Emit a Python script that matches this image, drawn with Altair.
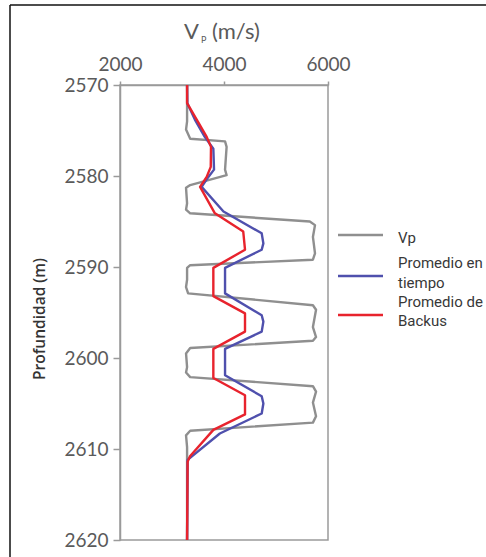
import altair as alt
import pandas as pd

# Vp log (m/s) against depth (m)
vp_depth = [2570.0, 2574.0, 2574.9, 2575.9, 2576.2, 2576.8, 2579.3, 2579.9, 2581.0, 2581.3,
            2583.0, 2583.7, 2584.1, 2585.0, 2585.4, 2586.7, 2588.5, 2589.2, 2589.8, 2590.1,
            2591.4, 2592.2, 2592.9, 2594.2, 2594.7, 2596.6, 2597.7, 2598.1, 2598.9, 2599.5,
            2601.0, 2601.6, 2602.1, 2603.1, 2603.7, 2604.9, 2606.4, 2607.1, 2608.0, 2608.5,
            2609.8, 2620.0]
vp_value = [3290, 3290, 3270, 3350, 4020, 4050, 4020, 4050, 3350, 3270,
            3290, 3270, 3350, 5650, 5750, 5710, 5750, 5710, 3350, 3290,
            3290, 3270, 3310, 5710, 5770, 5710, 5770, 5710, 3350, 3270,
            3290, 3270, 3350, 5710, 5770, 5710, 5770, 5710, 3350, 3270,
            3290, 3290]

# Time-average velocity
time_depth = [2570.0, 2572.0, 2573.8, 2575.7, 2577.0, 2579.3, 2580.1, 2581.2, 2583.9, 2586.3,
              2587.4, 2588.1, 2590.1, 2592.9, 2595.3, 2596.0, 2597.1, 2599.0, 2601.9, 2604.2,
              2605.0, 2606.1, 2608.3, 2611.2, 2620.0]
time_value = [3290, 3295, 3440, 3630, 3795, 3808, 3700, 3570, 3990, 4725,
              4757, 4725, 4020, 4020, 4725, 4757, 4725, 4020, 4020, 4725,
              4757, 4725, 3920, 3300, 3290]

# Backus average velocity
backus_depth = [2570.0, 2572.0, 2573.8, 2575.7, 2576.8, 2579.0, 2580.1, 2581.2, 2584.1, 2586.1,
                2588.1, 2590.1, 2593.2, 2595.1, 2597.1, 2599.0, 2602.2, 2604.1, 2606.2, 2607.9,
                2610.8, 2611.4, 2620.0]
backus_value = [3290, 3290, 3475, 3667, 3750, 3745, 3667, 3540, 3825, 4370,
                4404, 3795, 3795, 4404, 4404, 3795, 3795, 4404, 4404, 3795,
                3346, 3300, 3290]

series_names = ["Vp", "Promedio en tiempo", "Promedio de Backus"]
series_colors = ["#8f8f8f", "#4f50ad", "#e8232d"]
legend_lines = [["Vp"], ["Promedio en", "tiempo"], ["Promedio de", "Backus"]]

x_ticks = [2000, 4000, 6000]
y_ticks = [2570, 2580, 2590, 2600, 2610, 2620]

W, H = 208, 455
FRAME = "#9a9a9a"
TICK_TEXT = "#5a5a5a"
LEGEND_TEXT = "#383838"

x_scale = alt.Scale(domain=[2000, 6000], nice=False, zero=False)
y_scale = alt.Scale(domain=[2570, 2620], reverse=True, nice=False, zero=False)
color_scale = alt.Scale(domain=series_names, range=series_colors)

x_axis = alt.Axis(orient="top", values=x_ticks, title=None, tickSize=4, labelPadding=7,
                  labelFlush=False, format="d")
y_axis = alt.Axis(values=y_ticks, title=None, tickSize=7, labelPadding=5,
                  labelFlush=False, format="d")


def series_chart(name, depth, value):
    df = pd.DataFrame({"serie": name, "depth": depth, "vp": value, "idx": range(len(depth))})
    return alt.Chart(df).mark_line(strokeWidth=2.4, strokeJoin="round", clip=True).encode(
        x=alt.X("vp:Q", scale=x_scale, axis=x_axis),
        y=alt.Y("depth:Q", scale=y_scale, axis=y_axis),
        color=alt.Color("serie:N", scale=color_scale, legend=None),
        order=alt.Order("idx:Q"),
    )


layers = [
    series_chart(series_names[0], vp_depth, vp_value),
    series_chart(series_names[1], time_depth, time_value),
    series_chart(series_names[2], backus_depth, backus_value),
]


def text_at(txt, x, y, size, color, font, weight="normal", align="left",
            baseline="alphabetic", angle=0):
    return alt.Chart(pd.DataFrame({"t": [txt]})).mark_text(
        font=font, fontSize=size, fontWeight=weight, color=color, align=align,
        baseline=baseline, angle=angle,
    ).encode(text="t:N", x=alt.value(x), y=alt.value(y))


# axis titles
layers += [
    text_at("V", 79, -46, 22, TICK_TEXT, "Lato", align="right"),
    text_at("P", 81, -42, 9, TICK_TEXT, "Lato"),
    text_at("(m/s)", 92, -46, 22, TICK_TEXT, "Lato"),
    text_at("Profundidad (m)", -80, 234, 15.5, "#333333", "Open Sans", weight=600,
            align="center", baseline="middle", angle=270),
]

# legend
legend_symbol_y = [150, 191, 230]
legend_text_y = [[158], [183, 203], [222, 241]]
for i, name in enumerate(series_names):
    layers.append(
        alt.Chart(pd.DataFrame({"serie": [name]})).mark_rule(strokeWidth=2.4).encode(
            x=alt.value(218), x2=alt.value(263), y=alt.value(legend_symbol_y[i]),
            color=alt.Color("serie:N", scale=color_scale, legend=None),
        )
    )
    for line, ty in zip(legend_lines[i], legend_text_y[i]):
        layers.append(text_at(line, 278, ty, 15, LEGEND_TEXT, "Roboto"))

# outer figure border (top and left edges)
layers += [
    alt.Chart(pd.DataFrame({"e": [0]})).mark_rule(color="#111111", strokeWidth=1.5).encode(
        x=alt.value(-110), x2=alt.value(366), y=alt.value(-80)),
    alt.Chart(pd.DataFrame({"e": [0]})).mark_rule(color="#111111", strokeWidth=1.5).encode(
        x=alt.value(-110), y=alt.value(-80), y2=alt.value(472)),
]

chart = alt.layer(*layers).properties(
    width=W, height=H,
    padding={"left": 120, "top": 85, "right": 158, "bottom": 17},
    autosize=alt.AutoSizeParams(type="none"),
    background="white",
).configure_view(
    stroke=FRAME, strokeWidth=1.5,
).configure_axis(
    grid=False, domainColor=FRAME, domainWidth=1.5, tickColor=FRAME, tickWidth=1.5,
    labelColor=TICK_TEXT, labelFont="Lato", labelFontSize=19,
)

chart.save("out.html", embed_options={"renderer": "svg", "actions": False})
